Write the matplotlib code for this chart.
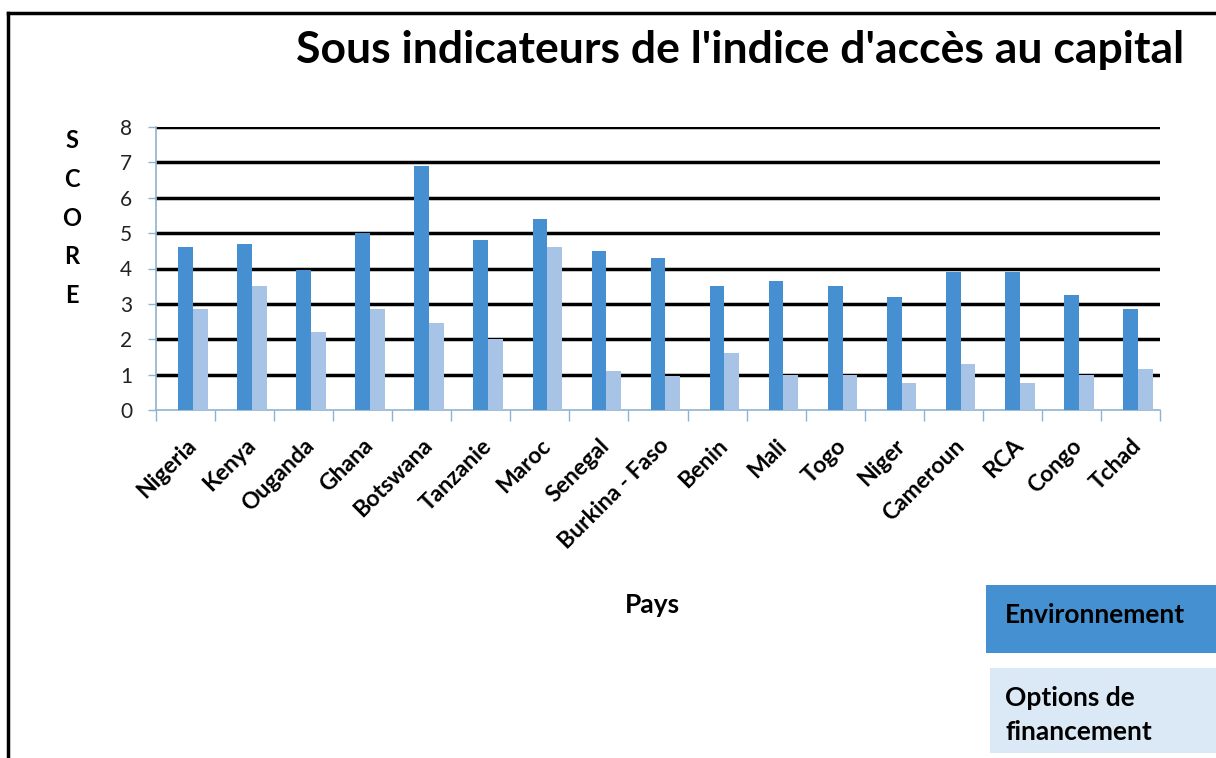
import matplotlib
matplotlib.use("Agg")
import matplotlib.pyplot as plt
from matplotlib.patches import Rectangle
from matplotlib.lines import Line2D
from matplotlib.transforms import ScaledTranslation
import numpy as np

countries = ["Nigeria", "Kenya", "Ouganda", "Ghana", "Botswana", "Tanzanie", "Maroc",
             "Senegal", "Burkina - Faso", "Benin", "Mali", "Togo", "Niger", "Cameroun",
             "RCA", "Congo", "Tchad"]
environnement = [4.6, 4.7, 3.95, 5.0, 6.9, 4.8, 5.4, 4.5, 4.3, 3.5, 3.65, 3.5, 3.2, 3.9, 3.9, 3.25, 2.85]
options_financement = [2.85, 3.5, 2.2, 2.85, 2.45, 2.0, 4.6, 1.1, 0.95, 1.6, 1.0, 1.0, 0.75, 1.3, 0.75, 1.0, 1.15]
yticks = [0, 1, 2, 3, 4, 5, 6, 7, 8]

FONT = ["Lato", "DejaVu Sans"]
plt.rcParams['font.family'] = FONT

W, H = 1216, 758
fig = plt.figure(figsize=(W / 100, H / 100), dpi=100)
fig.patch.set_facecolor("white")

def fx(px):
    return px / W

def fy(py):
    return 1 - py / H

ax = fig.add_axes([fx(156), fy(410), fx(1160) - fx(156), fy(127) - fy(410)])
x = np.arange(len(countries))
bw = 0.25
env_color = "#4690d1"
opt_color = "#a7c4e7"
ax.bar(x, environnement, width=bw, color=env_color, zorder=3)
ax.bar(x + bw, options_financement, width=bw, color=opt_color, zorder=3)

ax.set_xlim(-0.5, len(countries) - 0.5)
ax.set_ylim(0, 8)
ax.set_yticks(yticks)
ax.set_yticklabels([str(t) for t in yticks], fontsize=15, color="#222222")
for t in yticks[1:]:
    ax.axhline(t, color="black", lw=2.5, zorder=1)

ax.set_xticks(x)
ax.set_xticklabels(countries, rotation=45, ha="right", va="top",
                   rotation_mode="anchor", fontsize=16.5, fontweight="bold")
off = ScaledTranslation(5 / 100, 0, fig.dpi_scale_trans)
for lab in ax.get_xticklabels():
    lab.set_transform(lab.get_transform() + off)
ax.set_xticks(np.arange(len(countries) + 1) - 0.5, minor=True)
ax.tick_params(axis="x", which="major", length=0, pad=18)
ax.tick_params(axis="x", which="minor", length=8, color="#8fb3cf", width=1, direction="out")
ax.tick_params(axis="y", length=6, color="#8fb3cf", width=1, pad=11)

for s in ["top", "right"]:
    ax.spines[s].set_visible(False)
for s in ["left", "bottom"]:
    ax.spines[s].set_color("#8fb3cf")
    ax.spines[s].set_linewidth(1.2)

# Title
fig.text(fx(740), fy(50), "Sous indicateurs de l'indice d'accès au capital",
         ha="center", va="center", fontsize=32, fontweight="bold")

# Y label stacked letters
fig.text(fx(72), fy(218), "S\nC\nO\nR\nE", ha="center", va="center",
         fontsize=17, fontweight="bold", linespacing=1.84)

# X label
fig.text(fx(652), fy(605), "Pays", ha="center", va="center", fontsize=19, fontweight="bold")

# Legend boxes
fig.patches.append(Rectangle((fx(986), fy(653)), fx(1216) - fx(986), fy(585) - fy(653),
                             transform=fig.transFigure, facecolor="#4590d0", edgecolor="none"))
fig.patches.append(Rectangle((fx(990), fy(753)), fx(1216) - fx(990), fy(668) - fy(753),
                             transform=fig.transFigure, facecolor="#dbe8f5", edgecolor="none"))
fig.text(fx(1005), fy(615), "Environnement", ha="left", va="center", fontsize=19, fontweight="bold")
fig.text(fx(1005), fy(715), "Options de\nfinancement", ha="left", va="center",
         fontsize=19, fontweight="bold", linespacing=1.5)

# Outer frame (top and left visible)
fig.lines.append(Line2D([fx(8), fx(1216)], [fy(13), fy(13)], transform=fig.transFigure,
                        color="black", lw=2.5))
fig.lines.append(Line2D([fx(8), fx(8)], [fy(13), fy(758)], transform=fig.transFigure,
                        color="black", lw=2.5))

fig.savefig("out.png", dpi=100)
